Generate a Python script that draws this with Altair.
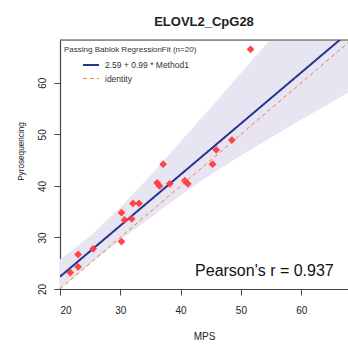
import altair as alt
import pandas as pd

F = "Liberation Sans"

# ---- data ----
mps = [51.6, 48.5, 45.9, 45.3, 37.1, 36.1, 36.5, 38.2, 40.7, 41.2,
       32.1, 33.1, 30.2, 30.7, 31.9, 30.2, 25.5, 23.0, 23.0, 21.7]
pyro = [66.5, 48.9, 47.0, 44.2, 44.2, 40.6, 40.0, 40.4, 41.0, 40.4,
        36.6, 36.6, 34.8, 33.4, 33.6, 29.2, 27.8, 26.7, 24.3, 23.2]

intercept = 2.59
slope = 0.99

band_x = [20, 25, 30, 35, 40, 45, 50, 55, 60, 65, 68.5]
band_lo = [20.1, 24.9, 29.5, 33.8, 38.2, 42.2, 45.9, 49.4, 52.9, 56.2, 58.6]
band_hi = [25.7, 30.3, 35.8, 42.0, 48.6, 55.2, 61.9, 68.6, 75.4, 82.1, 86.9]

x_ticks = [20, 30, 40, 50, 60]
y_ticks = [20, 30, 40, 50, 60]
x_dom = [20, 67.76]
y_dom = [20, 68.3]

fit_label = "2.59 + 0.99 * Method1"
id_label = "identity"
legend_title = "Passing Bablok RegressionFit (n=20)"
pearson = "Pearson's r = 0.937"

# ---- tables ----
pts = pd.DataFrame({"x": mps, "y": pyro})
band = pd.DataFrame({"x": band_x, "lo": band_lo, "hi": band_hi})
lines = pd.DataFrame({
    "x": [x_dom[0], x_dom[1], x_dom[0], x_dom[1]],
    "y": [intercept + slope * x_dom[0], intercept + slope * x_dom[1], x_dom[0], x_dom[1]],
    "series": [fit_label, fit_label, id_label, id_label],
})
txt = pd.DataFrame({"x": [65.4], "y": [22.6], "t": [pearson]})

xs = alt.Scale(domain=x_dom, nice=False, zero=False)
ys = alt.Scale(domain=y_dom, nice=False, zero=False)

x_axis = alt.Axis(values=x_ticks, title="MPS", grid=False, tickSize=6,
                  tickColor="#444", domainColor="#444", domainWidth=1.2,
                  labelFont=F, labelFontSize=10, labelColor="#222", labelPadding=10,
                  titleFont=F, titleFontSize=10, titleFontWeight="normal",
                  titleColor="#222", titleY=50, titleBaseline="alphabetic")
y_axis = alt.Axis(values=y_ticks, title="Pyrosequencing", grid=False, tickSize=6,
                  tickColor="#444", domainColor="#444", domainWidth=1.2,
                  labelFont=F, labelFontSize=10, labelColor="#222", labelPadding=7,
                  labelAngle=270, labelAlign="center", labelBaseline="bottom",
                  titleFont=F, titleFontSize=8.2, titleFontWeight="normal",
                  titleColor="#222", titleAngle=270, titleX=-37, titleY=111,
                  titleAlign="center", titleBaseline="alphabetic")

X = alt.X("x:Q", scale=xs, axis=x_axis)
Y = alt.Y("y:Q", scale=ys, axis=y_axis)

band_layer = alt.Chart(band).mark_area(color="#e8e5f2", clip=True, orient="vertical").encode(
    x=alt.X("x:Q", scale=xs, axis=x_axis),
    y=alt.Y("lo:Q", scale=ys, axis=y_axis),
    y2="hi:Q",
)

line_layer = alt.Chart(lines).mark_line(clip=True).encode(
    x=X, y=Y,
    color=alt.Color("series:N",
                    scale=alt.Scale(domain=[fit_label, id_label], range=["#26348f", "#ee7d45"]),
                    legend=alt.Legend(title=legend_title, orient="none", legendX=4, legendY=6,
                                      symbolType="stroke", symbolSize=256, symbolOffset=18,
                                      labelOffset=5, padding=0, titlePadding=2, rowPadding=-6,
                                      titleFont=F, titleFontSize=8, titleFontWeight="normal",
                                      titleColor="#333", labelFont=F, labelFontSize=8.5,
                                      labelColor="#333")),
    strokeDash=alt.StrokeDash("series:N",
                              scale=alt.Scale(domain=[fit_label, id_label], range=[[1, 0], [4, 3]])),
    strokeWidth=alt.StrokeWidth("series:N",
                                scale=alt.Scale(domain=[fit_label, id_label], range=[2, 1])),
)

pt_layer = alt.Chart(pts).mark_point(shape="diamond", filled=True, size=60,
                                     color="#ff3b3b", opacity=0.95).encode(x=X, y=Y)

text_layer = alt.Chart(txt).mark_text(align="right", baseline="alphabetic", font=F,
                                      fontSize=16, color="#111").encode(x=X, y=Y, text="t:N")

top_rule = alt.Chart(txt).mark_rule(color="#444", strokeWidth=1.2).encode(
    x=alt.value(0), x2=alt.value(288), y=alt.value(0))

chart = alt.layer(band_layer, line_layer, pt_layer, text_layer, top_rule).properties(
    width=288, height=249,
    title=alt.TitleParams("ELOVL2_CpG28", font=F, fontSize=13, fontWeight="bold",
                          color="#222", anchor="middle", offset=0, baseline="alphabetic"),
    autosize=alt.AutoSizeParams(type="none"),
    padding={"left": 60, "top": 40, "right": 0, "bottom": 58},
).configure_view(stroke=None).configure(background="white")

chart.save("out.html", embed_options={"renderer": "svg", "actions": False})
